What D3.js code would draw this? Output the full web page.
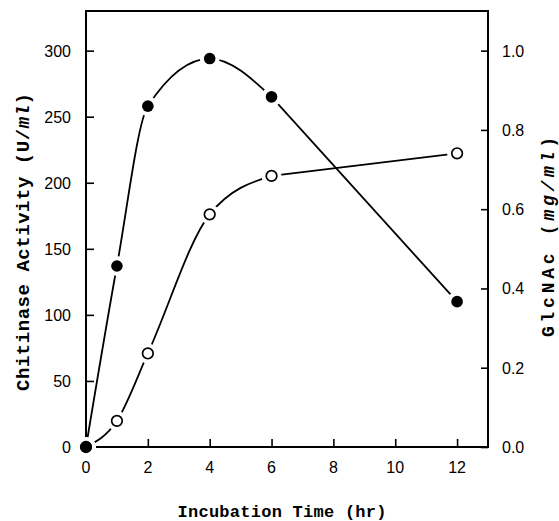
<!DOCTYPE html>
<html>
<head>
<meta charset="utf-8">
<script src="https://cdn.jsdelivr.net/npm/d3@7"></script>
<style>
body { margin: 0; background: #fff; }
svg { display: block; }
</style>
</head>
<body>
<div id="chart"></div>
<script>
// values
var hours = [0, 1, 2, 4, 6, 12]
var chitinase = [0, 137, 258, 294, 265, 110]      // U/ml, filled dots
var glcnac = [0, 0.066, 0.236, 0.587, 0.684, 0.741] // mg/ml, open circles
var xTicks = [0, 2, 4, 6, 8, 10, 12]
var leftTicks = [0, 50, 100, 150, 200, 250, 300]
var rightTicks = [0, 0.2, 0.4, 0.6, 0.8, 1.0]

var W = 559, H = 521
var box = {left: 86, right: 488, top: 11, bottom: 447}

var svg = d3.select("#chart").append("svg")
	.attr("width", W)
	.attr("height", H)

var x = d3.scaleLinear().domain([0, 13]).range([box.left, box.right])
var yL = d3.scaleLinear().domain([0, 330]).range([box.bottom, box.top])
var yR = d3.scaleLinear().domain([0, 1.1]).range([box.bottom, box.top])

var tickFont = "'Liberation Sans', Arial, sans-serif"
var titleFont = "'Liberation Mono', 'DejaVu Sans Mono', monospace"

// axes, ticks pointing inward
var bottomAxis = d3.axisTop(x).tickValues(xTicks).tickSizeInner(8).tickSizeOuter(0).tickFormat("")
var leftAxis = d3.axisRight(yL).tickValues(leftTicks).tickSizeInner(8).tickSizeOuter(0).tickFormat("")
var rightAxis = d3.axisLeft(yR).tickValues(rightTicks).tickSizeInner(7).tickSizeOuter(0).tickFormat("")

svg.append("g").attr("transform", "translate(0," + box.bottom + ")").call(bottomAxis)
svg.append("g").attr("transform", "translate(" + box.left + ",0)").call(leftAxis)
svg.append("g").attr("transform", "translate(" + box.right + ",0)").call(rightAxis)
svg.selectAll(".domain").remove()
svg.selectAll(".tick line").attr("stroke", "#000").attr("stroke-width", 1.6)

svg.append("rect")
	.attr("x", box.left)
	.attr("y", box.top)
	.attr("width", box.right - box.left)
	.attr("height", box.bottom - box.top)
	.attr("fill", "none")
	.attr("stroke", "#000")
	.attr("stroke-width", 2)

// tick labels
svg.selectAll(".xl").data(xTicks).enter().append("text")
	.attr("x", function(d){ return x(d) })
	.attr("y", 473)
	.attr("text-anchor", "middle")
	.attr("font-family", tickFont)
	.attr("font-size", 16)
	.text(function(d){ return d })

svg.selectAll(".ll").data(leftTicks).enter().append("text")
	.attr("x", 71)
	.attr("y", function(d){ return yL(d) + 6 })
	.attr("text-anchor", "end")
	.attr("font-family", tickFont)
	.attr("font-size", 16)
	.text(function(d){ return d })

svg.selectAll(".rl").data(rightTicks).enter().append("text")
	.attr("x", 502)
	.attr("y", function(d){ return yR(d) + 6 })
	.attr("font-family", tickFont)
	.attr("font-size", 16)
	.text(function(d){ return d3.format(".1f")(d) })

// axis titles (fitted to the span they take in the figure)
svg.append("text")
	.attr("x", 282)
	.attr("y", 517)
	.attr("text-anchor", "middle")
	.attr("font-family", titleFont)
	.attr("font-weight", "bold")
	.attr("font-size", 17)
	.attr("textLength", 209)
	.attr("lengthAdjust", "spacing")
	.text("Incubation Time (hr)")

var lt = svg.append("text")
	.attr("transform", "translate(29,242) rotate(-90)")
	.attr("text-anchor", "middle")
	.attr("font-family", titleFont)
	.attr("font-weight", "bold")
	.attr("font-size", 19)
	.attr("textLength", 298)
	.attr("lengthAdjust", "spacing")
lt.append("tspan").text("Chitinase Activity (U/")
lt.append("tspan").attr("font-style", "italic").text("ml")
lt.append("tspan").text(")")

var rt = svg.append("text")
	.attr("transform", "translate(554,237) rotate(-90)")
	.attr("text-anchor", "middle")
	.attr("font-family", titleFont)
	.attr("font-weight", "bold")
	.attr("font-size", 18)
	.attr("textLength", 200)
	.attr("lengthAdjust", "spacing")
rt.append("tspan").text("GlcNAc (")
rt.append("tspan").attr("font-style", "italic").text("mg/ml")
rt.append("tspan").text(")")

// curves: smooth up to 6 hr, straight from 6 to 12 hr
var filled = hours.map(function(h, i){ return {x: x(h), y: yL(chitinase[i])} })
var open = hours.map(function(h, i){ return {x: x(h), y: yR(glcnac[i])} })

var smooth = d3.line()
	.x(function(d){ return d.x })
	.y(function(d){ return d.y })
	.curve(d3.curveMonotoneX)
var straight = d3.line()
	.x(function(d){ return d.x })
	.y(function(d){ return d.y })

;[open, filled].forEach(function(s){
	var n = s.length
	svg.append("path").attr("d", smooth(s.slice(0, n - 1)))
		.attr("fill", "none").attr("stroke", "#000").attr("stroke-width", 1.8)
	svg.append("path").attr("d", straight(s.slice(n - 2)))
		.attr("fill", "none").attr("stroke", "#000").attr("stroke-width", 1.8)
})

// white gaps around markers, then markers
var all = open.concat(filled)
svg.selectAll(".gap").data(all).enter().append("circle")
	.attr("cx", function(d){ return d.x })
	.attr("cy", function(d){ return d.y })
	.attr("r", 10)
	.attr("fill", "#fff")

svg.selectAll(".op").data(open).enter().append("circle")
	.attr("cx", function(d){ return d.x })
	.attr("cy", function(d){ return d.y })
	.attr("r", 5.3)
	.attr("fill", "#fff")
	.attr("stroke", "#000")
	.attr("stroke-width", 1.7)

svg.selectAll(".fd").data(filled).enter().append("circle")
	.attr("cx", function(d){ return d.x })
	.attr("cy", function(d){ return d.y })
	.attr("r", 5.8)
	.attr("fill", "#000")
</script>
</body>
</html>
